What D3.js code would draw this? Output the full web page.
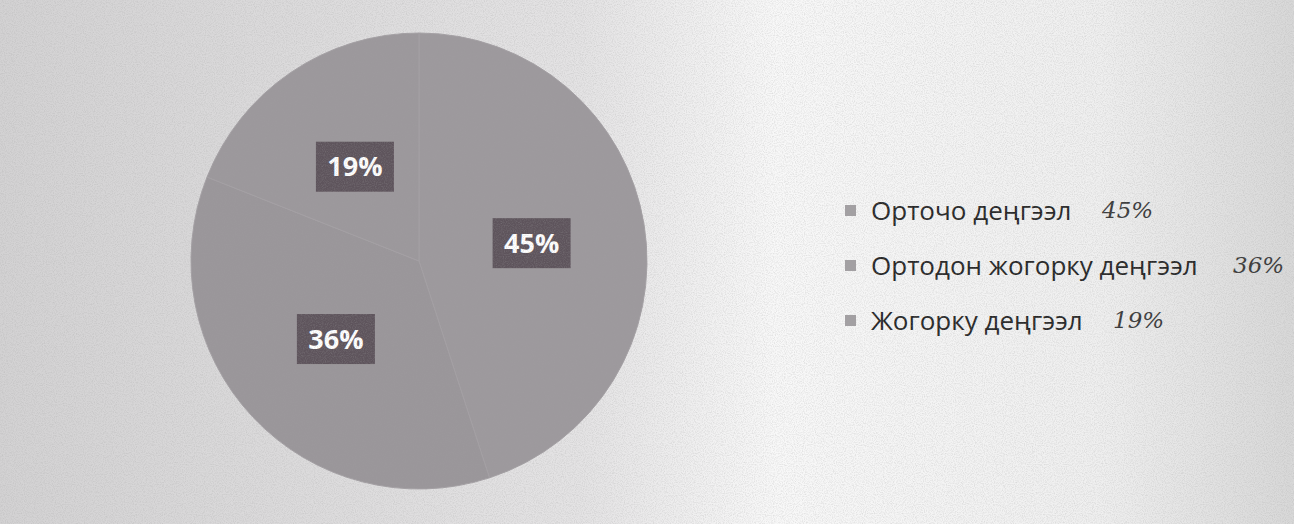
<!DOCTYPE html>
<html>
<head>
<meta charset="utf-8">
<script src="https://cdn.jsdelivr.net/npm/d3@7"></script>
<style>
  body { margin: 0; background: #fff; }
  svg { display: block; }
</style>
</head>
<body>
<div id="chart"></div>
<script>
// Pie chart (scanned page): levels in percent

const categories = ["Орточо деңгээл", "Ортодон жогорку деңгээл", "Жогорку деңгээл"];
const values = [45, 36, 19];
const valueLabels = ["45%", "36%", "19%"];
const handNotes = ["45%", "36%", "19%"];

const chartWidth = 1294;
const chartHeight = 524;

const svg = d3.select("#chart")
  .append("svg")
    .attr("width", chartWidth)
    .attr("height", chartHeight);

// paper background: grey scan on the left, lighter to the right
const defs = svg.append("defs");
const grad = defs.append("linearGradient")
    .attr("id", "paper")
    .attr("x1", "0").attr("x2", "1").attr("y1", "0").attr("y2", "0");
grad.append("stop").attr("offset", "0").attr("stop-color", "#d3d2d3");
grad.append("stop").attr("offset", "0.45").attr("stop-color", "#e4e3e4");
grad.append("stop").attr("offset", "0.6").attr("stop-color", "#f8f8f8");
grad.append("stop").attr("offset", "0.85").attr("stop-color", "#efefef");
grad.append("stop").attr("offset", "1").attr("stop-color", "#d8d8d8");

const grain = defs.append("filter").attr("id", "grain")
    .attr("x", 0).attr("y", 0).attr("width", "100%").attr("height", "100%");
grain.append("feTurbulence")
    .attr("type", "fractalNoise")
    .attr("baseFrequency", 0.9)
    .attr("numOctaves", 2)
    .attr("seed", 3)
    .attr("result", "noise");
grain.append("feColorMatrix")
    .attr("in", "noise")
    .attr("type", "matrix")
    .attr("values", "0 0 0 0 0.35  0 0 0 0 0.35  0 0 0 0 0.35  0 0 0 -1.4 0.85")
    .attr("result", "dots");
grain.append("feComposite")
    .attr("in", "dots").attr("in2", "SourceGraphic").attr("operator", "in");

svg.append("rect")
    .attr("width", chartWidth)
    .attr("height", chartHeight)
    .attr("fill", "url(#paper)");

// pie
const cx = 419, cy = 261, radius = 228;

const pie = d3.pie().sort(null).value(d => d.value);
const arcs = pie(values.map((v, i) => ({value: v, name: categories[i], label: valueLabels[i]})));

const arc = d3.arc().innerRadius(0).outerRadius(radius);
const labelArc = d3.arc().innerRadius(radius * 0.5).outerRadius(radius * 0.5);

const color = d3.scaleOrdinal()
    .domain(categories)
    .range(["#9d999d", "#9a969a", "#9c989c"]);

const g = svg.append("g")
    .attr("transform", "translate(" + cx + "," + cy + ")");

g.selectAll("slices")
  .data(arcs)
  .enter()
  .append("path")
    .attr("d", arc)
    .attr("fill", d => color(d.data.name))
    .attr("stroke", "#a4a0a4")
    .attr("stroke-width", 1);

// label boxes
const boxW = 78, boxH = 50;
const labels = g.selectAll("labels")
  .data(arcs)
  .enter()
  .append("g")
    .attr("transform", d => "translate(" + labelArc.centroid(d) + ")");

labels.append("rect")
    .attr("x", -boxW / 2)
    .attr("y", -boxH / 2)
    .attr("width", boxW)
    .attr("height", boxH)
    .attr("fill", "#5e545c");

labels.append("text")
    .attr("text-anchor", "middle")
    .attr("dy", "0.36em")
    .attr("fill", "#ffffff")
    .style("font-family", "'Open Sans', sans-serif")
    .style("font-weight", "bold")
    .style("font-size", "27px")
    .text(d => d.data.label);

// legend
const legendX = 845, legendY = 211, rowGap = 55;
const legend = svg.selectAll("legend")
  .data(categories)
  .enter()
  .append("g")
    .attr("transform", (d, i) => "translate(" + legendX + "," + (legendY + i * rowGap) + ")");

legend.append("rect")
    .attr("x", 0)
    .attr("y", -6)
    .attr("width", 11)
    .attr("height", 11)
    .attr("fill", "#a3a0a3");

legend.append("text")
    .attr("x", 26)
    .attr("dy", "0.36em")
    .attr("fill", "#262626")
    .style("font-family", "'Open Sans', sans-serif")
    .style("font-size", "26px")
    .text(d => d);

// handwritten notes next to the legend
const noteX = [1102, 1233, 1113];
legend.append("text")
    .attr("x", (d, i) => noteX[i] - legendX)
    .attr("dy", "0.3em")
    .attr("fill", "#3a3a3a")
    .style("font-family", "'DejaVu Serif', serif")
    .style("font-style", "italic")
    .style("font-size", "23px")
    .text((d, i) => handNotes[i]);

// scanner grain over everything
svg.append("rect")
    .attr("width", chartWidth)
    .attr("height", chartHeight)
    .attr("fill", "#000")
    .attr("filter", "url(#grain)")
    .attr("opacity", 0.4);
</script>
</body>
</html>
